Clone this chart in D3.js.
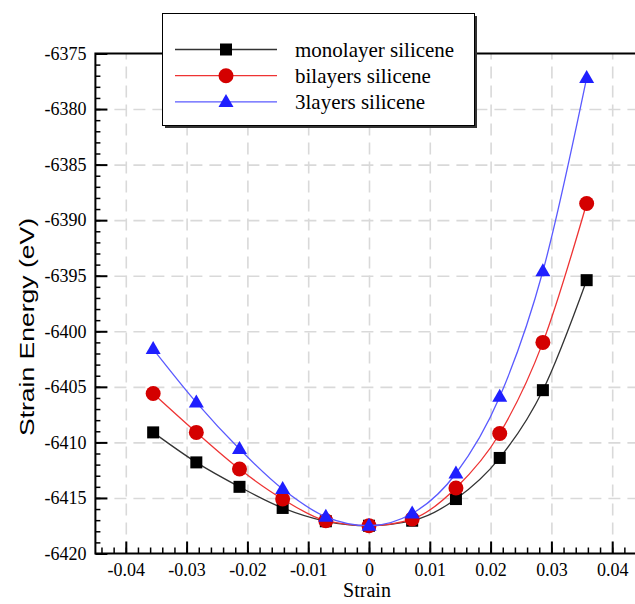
<!DOCTYPE html>
<html>
<head>
<meta charset="utf-8">
<script src="https://cdn.jsdelivr.net/npm/d3@7"></script>
<style>
  body { margin: 0; background: #fff; }
  .grid line { stroke: #d9d9d9; stroke-width: 1.6; stroke-dasharray: 12,7; }
  .grid path, .minor path { display: none; }
</style>
</head>
<body>
<div id="chart"></div>
<script>
// values
var strain = [-0.0355, -0.0284, -0.0213, -0.0142, -0.0071, 0, 0.0071, 0.0143, 0.0215, 0.0286, 0.0358];
var mono   = [-6409.1, -6411.8, -6414.0, -6415.9, -6417.1, -6417.5, -6417.05, -6415.1, -6411.4, -6405.3, -6395.4];
var bilayer = [-6405.6, -6409.1, -6412.4, -6415.1, -6417.05, -6417.5, -6416.9, -6414.1, -6409.2, -6401.0, -6388.5];
var three  = [-6401.6, -6406.4, -6410.6, -6414.2, -6416.7, -6417.5, -6416.4, -6412.8, -6405.9, -6394.6, -6377.2];
var seriesNames = ["monolayer silicene", "bilayers silicene", "3layers silicene"];
var xTicks = [-0.04, -0.03, -0.02, -0.01, 0, 0.01, 0.02, 0.03, 0.04];
var yTicks = [-6375, -6380, -6385, -6390, -6395, -6400, -6405, -6410, -6415, -6420];

var W = 635, H = 604;
var pLeft = 95.4, pTop = 53.5, pBottom = 553.5;
var serif = "'Liberation Serif', 'Times New Roman', serif";

var svg = d3.select("#chart").append("svg")
    .attr("width", W).attr("height", H);

var x = d3.scaleLinear().domain([-0.045, 0.045]).range([pLeft, pLeft + 0.09 * 6080]);
var y = d3.scaleLinear().domain([-6420, -6375]).range([pBottom, pTop]);

var series = [
  {name: seriesNames[0], values: mono, line: "#333333", fill: "#000000", shape: "square"},
  {name: seriesNames[1], values: bilayer, line: "#ee3333", fill: "#d40000", shape: "circle"},
  {name: seriesNames[2], values: three, line: "#5a5aff", fill: "#1f1fff", shape: "triangle"}
];

// plain hyphen instead of unicode minus
function hyph(s) { return s.replace("\u2212", "-"); }

// grid
svg.append("g").attr("class", "grid")
    .attr("transform", "translate(0," + pBottom + ")")
    .call(d3.axisBottom(x).tickValues(xTicks).tickSize(-(pBottom - pTop)).tickFormat(""));
svg.append("g").attr("class", "grid")
    .attr("transform", "translate(" + pLeft + ",0)")
    .call(d3.axisLeft(y).tickValues(yTicks.slice(1, -1)).tickSize(-(W - pLeft)).tickFormat(""));

// minor ticks
var xMinor = d3.range(-0.044, 0.0451, 0.002);
var yMinor = d3.range(-6419, -6375, 1);
svg.append("g").attr("class", "minor")
    .attr("transform", "translate(0," + pBottom + ")")
    .call(d3.axisBottom(x).tickValues(xMinor).tickSize(-6).tickFormat(""))
    .selectAll("line").attr("stroke", "#000").attr("stroke-width", 1.5);
svg.append("g").attr("class", "minor")
    .attr("transform", "translate(" + pLeft + ",0)")
    .call(d3.axisLeft(y).tickValues(yMinor).tickSize(-5).tickFormat(""))
    .selectAll("line").attr("stroke", "#000").attr("stroke-width", 1.5);

// major axes
var xAxis = svg.append("g")
    .attr("transform", "translate(0," + pBottom + ")")
    .call(d3.axisBottom(x).tickValues(xTicks).tickSize(-12).tickPadding(10)
        .tickFormat(function(d) { return d === 0 ? "0" : hyph(d3.format(".2f")(d)); }));
xAxis.select(".domain").remove();
xAxis.selectAll("line").attr("stroke", "#000").attr("stroke-width", 2);
xAxis.selectAll("text").style("font-family", serif).style("font-size", "18px");

var yAxis = svg.append("g")
    .attr("transform", "translate(" + pLeft + ",0)")
    .call(d3.axisLeft(y).tickValues(yTicks).tickSize(-12).tickPadding(9)
        .tickFormat(function(d) { return hyph(d3.format("d")(d)); }));
yAxis.select(".domain").remove();
yAxis.selectAll("line").attr("stroke", "#000").attr("stroke-width", 2);
yAxis.selectAll("text").style("font-family", serif).style("font-size", "18px");

// frame (left, bottom, top)
svg.append("path")
    .attr("d", "M" + W + "," + pTop + "H" + pLeft + "V" + pBottom + "H" + W)
    .attr("fill", "none").attr("stroke", "#000").attr("stroke-width", 2);

// lines and markers
var line = d3.line()
    .x(function(d, i) { return x(strain[i]); })
    .y(function(d) { return y(d); })
    .curve(d3.curveMonotoneX);

function marker(g, s, cx, cy) {
  if (s.shape === "square") {
    g.append("rect").attr("x", cx - 6).attr("y", cy - 6).attr("width", 12).attr("height", 12).attr("fill", s.fill);
  } else if (s.shape === "circle") {
    g.append("circle").attr("cx", cx).attr("cy", cy).attr("r", 7.5).attr("fill", s.fill);
  } else {
    g.append("path").attr("d", "M" + cx + "," + (cy - 8) + "L" + (cx + 7.5) + "," + (cy + 5) + "L" + (cx - 7.5) + "," + (cy + 5) + "Z")
      .attr("fill", s.fill);
  }
}

series.forEach(function(s) {
  var g = svg.append("g");
  g.append("path").datum(s.values)
    .attr("d", line)
    .attr("fill", "none").attr("stroke", s.line).attr("stroke-width", 1.3);
  s.values.forEach(function(v, i) { marker(g, s, x(strain[i]), y(v)); });
});

// legend
var lg = svg.append("g");
lg.append("rect").attr("x", 165).attr("y", 16).attr("width", 312).attr("height", 112).attr("fill", "#333");
lg.append("rect").attr("x", 162.5).attr("y", 13.5).attr("width", 312).attr("height", 112)
    .attr("fill", "#fff").attr("stroke", "#000").attr("stroke-width", 1);
series.forEach(function(s, i) {
  var ly = 49.5 + i * 26.2;
  lg.append("line").attr("x1", 175).attr("x2", 277).attr("y1", ly).attr("y2", ly)
    .attr("stroke", s.line).attr("stroke-width", 1.3);
  marker(lg, s, 226, ly);
  lg.append("text").attr("x", 295).attr("y", ly).attr("dy", "0.35em")
    .style("font-family", serif).style("font-size", "21px")
    .text(s.name);
});

// axis titles
svg.append("text")
    .attr("x", 367).attr("y", 597)
    .attr("text-anchor", "middle")
    .style("font-family", serif).style("font-size", "20px")
    .text("Strain");

svg.append("text")
    .attr("transform", "translate(34,327) rotate(-90)")
    .attr("text-anchor", "middle")
    .attr("textLength", 218).attr("lengthAdjust", "spacingAndGlyphs")
    .style("font-family", "'Liberation Sans', Arial, sans-serif").style("font-size", "20px")
    .text("Strain Energy (eV)");
</script>
</body>
</html>
